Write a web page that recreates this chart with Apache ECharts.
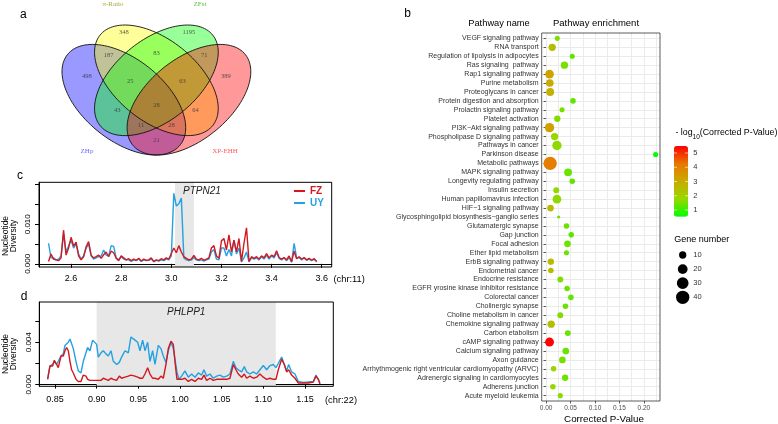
<!DOCTYPE html>
<html>
<head>
<meta charset="utf-8">
<title>Selection signals and pathway enrichment</title>
<script src="https://cdn.jsdelivr.net/npm/echarts@6.0.0/dist/echarts.min.js"></script>
<style>
  html, body { margin: 0; padding: 0; background: #fff; }
  #chart { width: 778px; height: 424px; }
</style>
</head>
<body>
<div id="chart"></div>
<script>
// ---- panel a: venn of the four selection scans ----
const vennSets = ['ZHp', 'π-Ratio', 'ZFst', 'XP-EHH']
// region counts, top row to bottom row
const vennCounts = [348, 1195, 187, 83, 71, 498, 25, 63, 389, 43, 28, 64, 11, 28, 21]

// ---- panel c: nucleotide diversity chr11 (x 1e-3), windows every 0.01 from 2.51 ----
const cStart = 2.51
const cStep = 0.01
const fzC = [
  0.6, 2.5, 1.2, 1.0, 0.8, 1.5, 8.5, 2.2, 4.0, 6.7,
  4.5, 5.5, 2.0, 1.0, 1.8, 4.3, 5.6, 2.2, 1.5, 1.8,
  2.2, 1.4, 2.3, 3.0, 1.8, 3.2, 2.8, 1.4, 0.8, 2.0,
  1.5, 1.0, 1.3, 0.8, 1.2, 0.9, 1.4, 0.7, 1.2, 0.9,
  1.0, 1.5, 0.6, 1.0, 0.8, 1.3, 1.0, 1.5, 1.2, 2.6,
  4.0, 2.8, 4.6, 3.0, 1.8, 1.4, 1.0, 1.2, 2.1, 1.2,
  1.0, 1.4, 0.9, 1.2, 1.5, 4.0, 4.6, 2.0, 1.4, 5.8,
  6.4, 3.5, 7.3, 3.0, 6.0, 3.0, 6.4, 0.6, 5.2, 9.1,
  0.6, 1.8, 1.4, 1.8, 1.2, 2.0, 1.5, 2.6, 1.5, 2.2,
  1.8, 3.3, 1.6, 1.2, 1.6, 1.0, 2.0, 0.5, 3.2, 1.3,
  1.8, 1.2, 1.6, 1.0, 1.4, 0.9, 1.3, 0.6
]
const uyC = [
  5.2, 1.5, 1.5, 1.0, 1.2, 2.0, 7.5, 3.0, 4.5, 6.0,
  4.0, 5.0, 2.5, 1.2, 2.0, 4.0, 5.0, 2.0, 1.2, 1.5,
  1.8, 2.0, 3.5, 2.2, 2.0, 4.6, 4.4, 1.5, 1.0, 1.8,
  1.2, 1.0, 1.0, 0.6, 1.0, 0.8, 1.2, 0.6, 1.0, 0.8,
  0.9, 1.2, 0.5, 0.9, 0.7, 1.0, 0.8, 1.2, 1.0, 2.0,
  17.8, 14.6, 15.2, 16.6, 1.5, 1.0, 0.8, 1.0, 1.6, 1.0,
  0.8, 1.0, 0.7, 1.0, 1.2, 3.0, 3.6, 1.2, 1.0, 4.0,
  4.0, 2.0, 3.6, 2.0, 6.0, 2.5, 4.0, 0.5, 1.5, 3.0,
  0.5, 1.5, 1.2, 1.5, 1.0, 1.8, 1.2, 2.2, 1.2, 2.0,
  1.5, 2.8, 1.4, 1.0, 1.5, 0.8, 1.6, 0.4, 5.2, 1.5,
  1.6, 1.0, 1.5, 0.9, 1.2, 0.8, 1.2, 0.5
]
const cTicks = [2.6, 2.8, 3.0, 3.2, 3.4, 3.6]
const cYTicks = [0, 0.005, 0.01, 0.015, 0.02]
const cYLabels = [0, 0.01]
const cGene = { name: 'PTPN21', from: 3.015, to: 3.09 }

// ---- panel d: nucleotide diversity chr22 (x 1e-3) ----
const posD = [
  0.8412, 0.844, 0.8472, 0.8492, 0.852, 0.854, 0.8572, 0.86, 0.862, 0.864,
  0.866, 0.868, 0.87, 0.872, 0.8752, 0.878, 0.8812, 0.884, 0.8872, 0.8892,
  0.892, 0.8952, 0.8972, 0.9, 0.902, 0.9052, 0.908, 0.9112, 0.914, 0.9172,
  0.92, 0.924, 0.9272, 0.93, 0.934, 0.938, 0.9412, 0.9432, 0.946, 0.9492,
  0.952, 0.9552, 0.958, 0.9612, 0.964, 0.9672, 0.97, 0.974, 0.9772, 0.98,
  0.9832, 0.986, 0.9892, 0.992, 0.9944, 0.9964, 0.9988, 1.002, 1.006, 1.01,
  1.014, 1.018, 1.022, 1.026, 1.0288, 1.032, 1.036, 1.04, 1.044, 1.048,
  1.052, 1.056, 1.06, 1.064, 1.0672, 1.07, 1.074, 1.0772, 1.08, 1.084,
  1.088, 1.092, 1.096, 1.1, 1.104, 1.108, 1.112, 1.1152, 1.118, 1.122,
  1.1252, 1.128, 1.1304, 1.134, 1.138, 1.142, 1.148, 1.154, 1.16, 1.1632,
  1.166, 1.168
]
const uyD = [
  0.54, 1.76, 1.9, 2.2, 1.9, 1.8, 2.7, 2.9, 3.7, 3.8,
  4.0, 4.3, 4.2, 3.4, 2.2, 1.3, 1.1, 2.2, 3.0, 3.5,
  3.2, 4.2, 4.2, 3.8, 2.6, 3.0, 3.2, 2.9, 2.7, 3.2,
  2.2, 1.9, 2.1, 2.6, 3.2, 3.0, 4.5, 4.6, 4.2, 4.0,
  3.2, 4.2, 3.2, 4.0, 2.2, 3.2, 1.9, 3.7, 3.4, 2.7,
  2.1, 3.2, 4.0, 3.4, 2.2, 1.2, 0.5, 0.8, 1.3, 0.7,
  1.0, 0.7, 1.1, 0.9, 1.4, 0.8, 1.0, 0.6, 0.8, 0.9,
  0.7, 0.8, 1.0, 2.2, 1.6, 1.4, 1.2, 1.7, 1.2, 1.0,
  1.2, 1.0, 1.4, 1.8, 1.4, 1.8, 1.9, 1.6, 2.0, 2.6,
  1.9, 1.3, 1.9, 1.2, 1.0, 0.3, 0.2, 0.25, 0.3, 0.9,
  0.5, 0.15
]
const fzD = [
  0.5, 1.76, 1.76, 2.3, 1.9, 1.6, 2.7, 2.7, 3.2, 3.5,
  3.2, 2.2, 1.4, 1.1, 0.5, 0.3, 0.3, 0.9, 0.8, 0.5,
  0.4, 0.4, 0.4, 0.4, 0.4, 0.4, 0.6, 0.5, 0.4, 0.6,
  0.5, 0.4, 0.8, 0.6, 0.7, 0.8, 0.9, 0.8, 0.8, 0.7,
  0.6, 0.6, 1.0, 1.6, 1.0, 0.6, 0.6, 0.5, 0.8, 0.6,
  1.9, 3.4, 4.1, 3.8, 1.9, 0.5, 0.5, 0.5, 0.6, 0.3,
  0.5, 0.3, 0.6, 0.5, 0.9, 0.4, 0.6, 0.4, 0.5, 0.5,
  0.5, 0.5, 0.6, 1.9, 1.4, 1.0, 0.7, 1.0, 0.6, 0.8,
  0.6, 0.7, 1.0, 0.7, 0.5, 0.6, 0.5, 0.5, 1.4, 2.4,
  1.9, 1.2, 1.4, 0.9, 0.6, 0.15, 0.15, 0.15, 0.25, 0.8,
  0.5, 0.05
]
const dTicks = [0.85, 0.9, 0.95, 1.0, 1.05, 1.1, 1.15]
const dYTicks = [0, 0.002, 0.004, 0.006]
const dYLabels = [0, 0.004]
const dGene = { name: 'PHLPP1', from: 0.9, to: 1.115 }

// ---- panel b: KEGG enrichment ----
const pathways = [
  'VEGF signaling pathway', 'RNA transport', 'Regulation of lipolysis in adipocytes',
  'Ras signaling  pathway', 'Rap1 signaling pathway', 'Purine metabolism',
  'Proteoglycans in cancer', 'Protein digestion and absorption', 'Prolactin signaling pathway',
  'Platelet activation', 'PI3K\u2212Akt signaling pathway', 'Phospholipase D signaling pathway',
  'Pathways in cancer', 'Parkinson disease', 'Metabolic pathways',
  'MAPK signaling pathway', 'Longevity regulating pathway', 'Insulin secretion',
  'Human papillomavirus infection', 'HIF\u22121 signaling pathway',
  'Glycosphingolipid biosynthesis\u2212ganglio series', 'Glutamatergic synapse', 'Gap junction',
  'Focal adhesion', 'Ether lipid metabolism', 'ErbB signaling pathway',
  'Endometrial cancer', 'Endocrine resistance', 'EGFR yrosine kinase inhibitor resistance',
  'Colorectal cancer', 'Cholinergic synapse', 'Choline metabolism in cancer',
  'Chemokine signaling pathway', 'Carbon etabolism', 'cAMP signaling pathway',
  'Calcium signaling pathway', 'Axon guidance',
  'Arrhythmogenic right ventricular cardiomyopathy (ARVC)',
  'Adrenergic signaling in cardiomyocytes', 'Adherens junction', 'Acute myeloid leukemia'
]
const corrP = [
  0.0229, 0.0125, 0.0535, 0.0375, 0.007, 0.0076, 0.0083, 0.055, 0.0326, 0.0229,
  0.007, 0.0174, 0.0222, 0.224, 0.0083, 0.045, 0.0535, 0.0208, 0.0222, 0.009,
  0.0257, 0.0417, 0.0514, 0.0437, 0.0417, 0.0097, 0.0097, 0.029, 0.043, 0.0507,
  0.0396, 0.029, 0.0104, 0.0444, 0.007, 0.0403, 0.0333, 0.0153, 0.0389, 0.0139,
  0.029
]
const logP = [
  1.6, 2.5, 1.3, 1.5, 3.2, 3.0, 2.9, 1.3, 1.5, 1.6,
  3.3, 1.8, 1.7, 0.53, 4.1, 1.4, 1.3, 1.7, 1.7, 2.6,
  1.5, 1.4, 1.3, 1.4, 1.4, 2.6, 2.6, 1.6, 1.4, 1.3,
  1.4, 1.6, 2.5, 1.4, 5.49, 1.4, 1.5, 1.8, 1.4, 1.8,
  1.6
]
const geneNum = [
  4, 10, 4, 10, 15, 11, 12, 5, 4, 7,
  18, 10, 18, 4, 40, 12, 5, 6, 15, 8,
  1, 5, 5, 8, 4, 7, 5, 6, 5, 5,
  5, 6, 10, 6, 16, 8, 8, 5, 7, 5,
  4
]
const pMajor = [0, 0.05, 0.1, 0.15, 0.2]
const pGrid = [0, 0.025, 0.05, 0.075, 0.1, 0.125, 0.15, 0.175, 0.2, 0.225]
const colorTicks = [1, 2, 3, 4, 5]
const geneBreaks = [10, 20, 30, 40]

// ---- look ----
const FONT = 'Liberation Sans'
const RED = '#d3181f'
const BLUE = '#24a1e2'
const colorMin = 0.53
const colorMax = 5.49
const colorBar = { left: 674, top: 146, width: 14, height: 70.7 }
const dot = (n) => 1.3 + 1.9 * Math.sqrt(n)

// VennDiagram style quad layout, unit square
const vennShapes = [
  { c: [0.35, 0.47], r: [0.35, 0.2], rot: 135, fill: 'rgba(0,0,255,0.4)' },
  { c: [0.5, 0.57], r: [0.35, 0.2], rot: 135, fill: 'rgba(255,255,0,0.4)' },
  { c: [0.5, 0.57], r: [0.35, 0.2], rot: 45, fill: 'rgba(0,255,0,0.4)' },
  { c: [0.65, 0.47], r: [0.35, 0.2], rot: 45, fill: 'rgba(255,0,0,0.4)' }
]
const vennLabelPos = [
  [0.35, 0.82], [0.65, 0.82], [0.28, 0.70], [0.50, 0.71], [0.72, 0.70],
  [0.18, 0.59], [0.38, 0.565], [0.62, 0.565], [0.82, 0.59], [0.32, 0.415],
  [0.50, 0.44], [0.68, 0.415], [0.43, 0.34], [0.57, 0.34], [0.50, 0.26]
]
const vennSetLabels = [
  { x: 87, y: 151, color: '#6b6bff' },
  { x: 113, y: 4, color: '#a6a63c' },
  { x: 200, y: 4, color: '#5cc040' },
  { x: 225, y: 151, color: '#ff5a5a' }
]

function ellipsePts(e, api) {
  const t = e.rot * Math.PI / 180
  const pts = []
  for (let k = 0; k < 120; k++) {
    const u = k / 120 * Math.PI * 2
    const ex = e.r[0] * Math.cos(u)
    const ey = e.r[1] * Math.sin(u)
    pts.push(api.coord([
      e.c[0] + ex * Math.cos(t) - ey * Math.sin(t),
      e.c[1] + ex * Math.sin(t) + ey * Math.cos(t)
    ]))
  }
  return pts
}

function txt(x, y, text, size, extra) {
  return {
    type: 'text', x, y, silent: true,
    style: Object.assign({
      text, fontSize: size, fontFamily: FONT, fill: '#000',
      align: 'left', verticalAlign: 'middle'
    }, extra || {})
  }
}

function rAxisX(grid, min, max, ticks, digits, margin) {
  return {
    type: 'value', gridIndex: grid, min, max,
    axisLine: { show: true, lineStyle: { color: '#000', width: 1 } },
    axisTick: { show: true, length: 4, customValues: ticks, lineStyle: { color: '#000' } },
    axisLabel: {
      customValues: ticks, formatter: (v) => v.toFixed(digits),
      fontSize: 9, fontFamily: FONT, color: '#000', margin
    },
    splitLine: { show: false }
  }
}

function rAxisY(grid, min, max, ticks, labels) {
  return {
    type: 'value', gridIndex: grid, min, max,
    axisLine: { show: true, lineStyle: { color: '#000', width: 1 } },
    axisTick: { show: true, length: 4, customValues: ticks, lineStyle: { color: '#000' } },
    axisLabel: {
      customValues: labels, formatter: (v) => v.toFixed(3), rotate: 90,
      fontSize: 8, fontFamily: FONT, color: '#000', margin: 7
    },
    splitLine: { show: false }
  }
}

function geneArea(g, labelPos) {
  return {
    silent: true,
    itemStyle: { color: '#e6e7e6' },
    label: {
      show: true, position: labelPos, distance: 5,
      fontSize: 10, fontStyle: 'italic', fontFamily: FONT, color: '#222'
    },
    data: [[{ name: g.name, xAxis: g.from }, { xAxis: g.to }]]
  }
}

const lineSeries = (name, color, x, y, data) => ({
  name, type: 'line', xAxisIndex: x, yAxisIndex: y,
  data, showSymbol: false, symbol: 'none', z: 3,
  lineStyle: { color, width: 1.4 }, itemStyle: { color }, silent: true
})

// ---- graphic: titles, venn set names, legends ----
const graphics = [
  txt(23.3, 14.3, 'a', 12, { align: 'center' }),
  txt(407.5, 13.7, 'b', 12, { align: 'center' }),
  txt(20, 175.8, 'c', 12, { align: 'center' }),
  txt(24, 296.5, 'd', 12, { align: 'center' }),
  txt(499, 23, 'Pathway name', 9.3, { align: 'center' }),
  txt(596, 23, 'Pathway enrichment', 9.5, { align: 'center' }),
  txt(604, 419, 'Corrected P-Value', 9.8, { align: 'center' }),
  txt(333.5, 279, '(chr:11)', 9.3),
  txt(325, 400.3, '(chr:22)', 9.3),
  Object.assign(txt(10, 236, 'Nucleotide\nDiversity', 8.5, { align: 'center', lineHeight: 8 }), { rotation: Math.PI / 2 }),
  Object.assign(txt(10, 354, 'Nucleotide\nDiversity', 8.5, { align: 'center', lineHeight: 8 }), { rotation: Math.PI / 2 }),
  {
    type: 'text', x: 675.5, y: 133, silent: true,
    style: {
      text: '{m|- log}{s|10}{m|(Corrected P-Value)}',
      verticalAlign: 'middle',
      rich: {
        m: { fontSize: 8.8, fontFamily: FONT, fill: '#000', lineHeight: 16, verticalAlign: 'middle' },
        s: { fontSize: 6.5, fontFamily: FONT, fill: '#000', lineHeight: 16, verticalAlign: 'bottom' }
      }
    }
  },
  txt(674.3, 239.3, 'Gene number', 9)
]
vennSets.forEach((s, i) => {
  const p = vennSetLabels[i]
  graphics.push(txt(p.x, p.y, s, 7, { align: 'center', fontFamily: 'Liberation Serif', fill: p.color }))
})
colorTicks.forEach((v) => {
  const y = colorBar.top + (colorMax - v) / (colorMax - colorMin) * colorBar.height
  graphics.push(txt(colorBar.left + 19.3, y, String(v), 7.5, { fill: '#333' }))
  graphics.push({ type: 'line', silent: true, z: 10, shape: { x1: colorBar.left, y1: y, x2: colorBar.left + 3, y2: y }, style: { stroke: '#fff', lineWidth: 0.6 } })
  graphics.push({ type: 'line', silent: true, z: 10, shape: { x1: colorBar.left + colorBar.width - 3, y1: y, x2: colorBar.left + colorBar.width, y2: y }, style: { stroke: '#fff', lineWidth: 0.6 } })
})
geneBreaks.forEach((n, i) => {
  const y = 255 + i * 14.1
  graphics.push({ type: 'circle', silent: true, shape: { cx: 682.7, cy: y, r: dot(n) / 2 }, style: { fill: '#000' } })
  graphics.push(txt(693.3, y, String(n), 7.5, { fill: '#333' }))
})

const option = {
  animation: false,
  backgroundColor: '#fff',
  textStyle: { fontFamily: FONT },
  grid: [
    { left: 47.9, top: 0, width: 217, height: 190.9 },
    { left: 39, top: 182.3, width: 292.7, height: 84.7, show: true, z: 5, borderColor: '#000', borderWidth: 1, backgroundColor: 'transparent' },
    { left: 39.3, top: 302, width: 294, height: 84.3, show: true, z: 5, borderColor: '#000', borderWidth: 1, backgroundColor: 'transparent' },
    { left: 541.7, top: 33, width: 118.3, height: 368, show: true, z: 5, borderColor: '#333', borderWidth: 0.8, backgroundColor: 'transparent' }
  ],
  xAxis: [
    { type: 'value', gridIndex: 0, min: 0, max: 1, show: false },
    rAxisX(1, 2.472, 3.64, cTicks, 1, 7),
    rAxisX(2, 0.8312, 1.184, dTicks, 2, 9),
    {
      type: 'value', gridIndex: 3, min: -0.009, max: 0.233, position: 'bottom',
      axisLine: { show: false },
      axisTick: { show: false, customValues: pGrid },
      axisLabel: {
        customValues: pMajor, formatter: (v) => v.toFixed(2),
        fontSize: 6.5, fontFamily: FONT, color: '#4d4d4d', margin: 4
      },
      splitLine: { show: true, lineStyle: { color: '#ebebeb', width: 1 } }
    },
    {
      type: 'value', gridIndex: 3, min: -0.009, max: 0.233, position: 'bottom',
      axisLine: { show: false },
      axisTick: { show: true, length: 2.5, customValues: pMajor, lineStyle: { color: '#333', width: 0.8 } },
      axisLabel: { show: false },
      splitLine: { show: false }
    }
  ],
  yAxis: [
    { type: 'value', gridIndex: 0, min: 0, max: 0.984, show: false },
    rAxisY(1, -0.0008, 0.0206, cYTicks, cYLabels),
    rAxisY(2, -0.00016, 0.0078, dYTicks, dYLabels),
    {
      type: 'value', gridIndex: 3, min: 0.4, max: 41.6, inverse: true,
      axisLine: { show: false },
      axisTick: { show: true, length: 2.5, customValues: pathways.map((p, i) => i + 1), lineStyle: { color: '#333', width: 0.8 } },
      axisLabel: {
        customValues: pathways.map((p, i) => i + 1),
        formatter: (v) => pathways[Math.round(v) - 1],
        fontSize: 7, fontFamily: FONT, color: '#333', margin: 3
      },
      splitLine: { show: true, lineStyle: { color: '#ebebeb', width: 1 } }
    }
  ],
  legend: {
    data: [
      { name: 'FZ', textStyle: { color: RED } },
      { name: 'UY', textStyle: { color: BLUE } }
    ],
    orient: 'vertical', left: 294, top: 185, padding: 0,
    itemWidth: 11, itemHeight: 2, itemGap: 0, icon: 'rect', selectedMode: false,
    textStyle: { fontSize: 10, fontWeight: 'bold', fontFamily: FONT, lineHeight: 12 }
  },
  visualMap: {
    type: 'continuous', min: colorMin, max: colorMax, dimension: 2, seriesIndex: 7,
    inRange: { color: ['#00ff00', '#98d700', '#c9ab00', '#e87700', '#ff0000'] },
    left: colorBar.left, top: colorBar.top, itemWidth: colorBar.width, itemHeight: colorBar.height,
    calculable: false, text: null, padding: 0, hoverLink: false
  },
  graphic: graphics,
  series: [
    {
      type: 'custom', coordinateSystem: 'cartesian2d', xAxisIndex: 0, yAxisIndex: 0,
      data: vennShapes.map((e, i) => [e.c[0], e.c[1], i]), silent: true, clip: false,
      renderItem: (params, api) => ({
        type: 'polygon',
        shape: { points: ellipsePts(vennShapes[params.dataIndex], api) },
        style: { fill: vennShapes[params.dataIndex].fill, stroke: null }
      })
    },
    {
      type: 'custom', coordinateSystem: 'cartesian2d', xAxisIndex: 0, yAxisIndex: 0,
      data: vennShapes.map((e, i) => [e.c[0], e.c[1], i]), silent: true, clip: false,
      renderItem: (params, api) => ({
        type: 'polygon',
        shape: { points: ellipsePts(vennShapes[params.dataIndex], api) },
        style: { fill: 'none', stroke: '#111', lineWidth: 0.9 }
      })
    },
    {
      type: 'scatter', xAxisIndex: 0, yAxisIndex: 0, symbolSize: 1, silent: true,
      itemStyle: { color: 'transparent' },
      data: vennLabelPos.map((p, i) => [p[0], p[1], vennCounts[i]]),
      label: {
        show: true, position: 'inside', formatter: (p) => String(p.value[2]),
        fontSize: 6.5, fontFamily: 'Liberation Serif', color: '#333'
      }
    },
    Object.assign(
      lineSeries('UY', BLUE, 1, 1, uyC.map((v, i) => [cStart + i * cStep, v / 1000])),
      { markArea: geneArea(cGene, [8, 3.5]) }
    ),
    lineSeries('FZ', RED, 1, 1, fzC.map((v, i) => [cStart + i * cStep, v / 1000])),
    Object.assign(
      lineSeries('UY', BLUE, 2, 2, uyD.map((v, i) => [posD[i], v / 1000])),
      { markArea: geneArea(dGene, 'insideTop') }
    ),
    lineSeries('FZ', RED, 2, 2, fzD.map((v, i) => [posD[i], v / 1000])),
    {
      type: 'scatter', xAxisIndex: 3, yAxisIndex: 3, silent: true, z: 3,
      data: pathways.map((p, i) => [corrP[i], i + 1, logP[i], geneNum[i]]),
      symbolSize: (v) => dot(v[3]),
      itemStyle: { opacity: 1 }
    }
  ]
}

const chart = echarts.init(document.getElementById('chart'))
chart.setOption(option)
window.addEventListener('resize', () => chart.resize())
</script>
</body>
</html>
